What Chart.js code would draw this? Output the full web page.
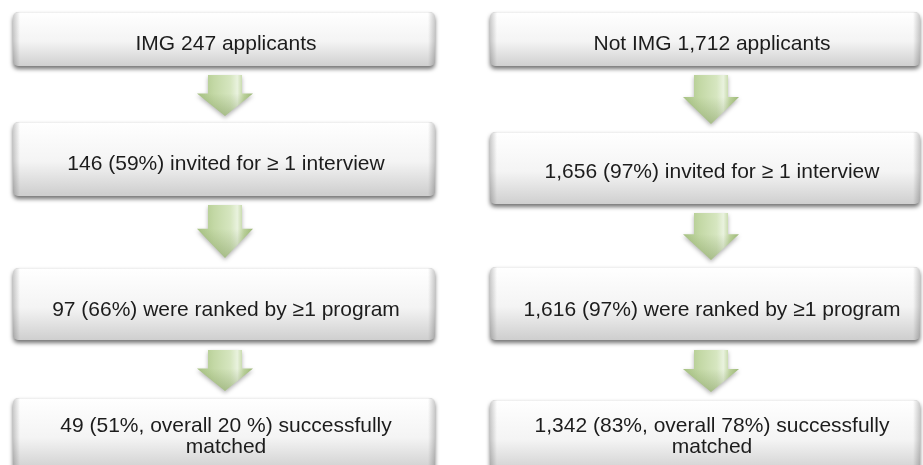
<!DOCTYPE html>
<html>
<head>
<meta charset="utf-8">
<script src="https://cdn.jsdelivr.net/npm/chart.js@4/dist/chart.umd.min.js"></script>
<style>
  html, body { margin: 0; padding: 0; background: #ffffff; }
  #wrap { width: 923px; height: 465px; position: relative; }
</style>
</head>
<body>
<div id="wrap"><canvas id="flowChart"></canvas></div>
<script>
// Applicant flow data
const groups = ['IMG', 'Not IMG'];
const applicants = [247, 1712];
const invited = [146, 1656];
const invitedPct = [59, 97];
const ranked = [97, 1616];
const rankedPct = [66, 97];
const matched = [49, 1342];
const matchedPct = [51, 83];
const overallPct = [20, 78];
const overallSuffix = [' %', '%'];

// Layout (chart units = pixels of the 923x465 scale)
const colBox = [[13, 435], [490, 920]];
const colText = [226, 712];
const boxRows = [
    [[12, 66], [122, 196], [268, 340], [398, 472]],
    [[12, 66], [132, 204], [267, 340], [400, 472]]
];
const arrowRows = [
    [[75, 116], [205, 258], [350, 391]],
    [[75, 124], [213, 260], [350, 392]]
];
const textBase = [
    [50, 170, 316, [432, 453]],
    [50, 178, 316, [432, 453]]
];

function fmt(n) {
    return n.toLocaleString('en-US');
}

function stageText(i) {
    return [
        [groups[i] + ' ' + fmt(applicants[i]) + ' applicants'],
        [fmt(invited[i]) + ' (' + invitedPct[i] + '%) invited for \u2265 1 interview'],
        [fmt(ranked[i]) + ' (' + rankedPct[i] + '%) were ranked by \u22651 program'],
        [fmt(matched[i]) + ' (' + matchedPct[i] + '%, overall ' + overallPct[i] + overallSuffix[i] + ') successfully', 'matched']
    ];
}

function drawBox(ctx, x0, y0, x1, y1) {
    const w = x1 - x0, h = y1 - y0, r = 5;
    ctx.save();
    ctx.shadowColor = 'rgba(0,0,0,0.55)';
    ctx.shadowBlur = 4;
    ctx.shadowOffsetY = 3;
    const g = ctx.createLinearGradient(0, y0, 0, y0 + Math.min(h, 72));
    g.addColorStop(0, '#ffffff');
    g.addColorStop(0.55, '#f4f4f4');
    g.addColorStop(1, '#cfcfcf');
    ctx.fillStyle = g;
    ctx.beginPath();
    ctx.roundRect(x0, y0, w, h, r);
    ctx.fill();
    ctx.restore();

    ctx.save();
    ctx.beginPath();
    ctx.roundRect(x0, y0, w, h, r);
    ctx.clip();
    const e = 7 / w;
    const s = ctx.createLinearGradient(x0, 0, x1, 0);
    s.addColorStop(0, 'rgba(0,0,0,0.2)');
    s.addColorStop(e, 'rgba(0,0,0,0)');
    s.addColorStop(1 - e, 'rgba(0,0,0,0)');
    s.addColorStop(1, 'rgba(0,0,0,0.2)');
    ctx.fillStyle = s;
    ctx.fillRect(x0, y0, w, h);
    ctx.strokeStyle = 'rgba(0,0,0,0.06)';
    ctx.lineWidth = 1;
    ctx.beginPath();
    ctx.moveTo(x0, y0 + 0.5);
    ctx.lineTo(x1, y0 + 0.5);
    ctx.stroke();
    ctx.restore();
}

function drawArrow(ctx, cx, top, bottom) {
    const sh = 17, hh = 28;
    const hy = top + (bottom - top) * 0.45;
    ctx.save();
    ctx.beginPath();
    ctx.moveTo(cx - sh, top);
    ctx.lineTo(cx + sh, top);
    ctx.lineTo(cx + sh, hy);
    ctx.lineTo(cx + hh, hy);
    ctx.lineTo(cx, bottom);
    ctx.lineTo(cx - hh, hy);
    ctx.lineTo(cx - sh, hy);
    ctx.closePath();
    ctx.shadowColor = 'rgba(0,0,0,0.3)';
    ctx.shadowBlur = 4;
    ctx.shadowOffsetY = 2;
    const g = ctx.createLinearGradient(cx - hh, 0, cx + hh, 0);
    g.addColorStop(0, '#a7c283');
    g.addColorStop(0.3, '#c3d8a5');
    g.addColorStop(0.6, '#d6e6c0');
    g.addColorStop(0.72, '#e9f2de');
    g.addColorStop(0.84, '#bdd39d');
    g.addColorStop(1, '#9db877');
    ctx.fillStyle = g;
    ctx.fill();
    ctx.shadowColor = 'transparent';
    ctx.clip();
    const v = ctx.createLinearGradient(0, hy, 0, bottom);
    v.addColorStop(0, 'rgba(90,120,50,0)');
    v.addColorStop(1, 'rgba(90,120,50,0.35)');
    ctx.fillStyle = v;
    ctx.fillRect(cx - hh, hy, hh * 2, bottom - hy);
    ctx.restore();
}

const flowPlugin = {
    id: 'flowPlugin',
    afterDraw(chart) {
        const ctx = chart.ctx;
        const xs = chart.scales.x, ys = chart.scales.y;
        const px = v => xs.getPixelForValue(v);
        const py = v => ys.getPixelForValue(v);

        groups.forEach(function (g, i) {
            const texts = stageText(i);
            boxRows[i].forEach(function (row, k) {
                drawBox(ctx, px(colBox[i][0]), py(row[0]), px(colBox[i][1]), py(row[1]));
            });
            arrowRows[i].forEach(function (a) {
                drawArrow(ctx, px(colText[i] - 1), py(a[0]), py(a[1]));
            });
            ctx.save();
            ctx.fillStyle = '#1c1c1c';
            ctx.font = '21px "Liberation Sans", Arial, sans-serif';
            ctx.textAlign = 'center';
            ctx.textBaseline = 'alphabetic';
            texts.forEach(function (lines, k) {
                const base = [].concat(textBase[i][k]);
                lines.forEach(function (line, j) {
                    ctx.fillText(line, px(colText[i]), py(base[j]));
                });
            });
            ctx.restore();
        });
    }
};

document.addEventListener("DOMContentLoaded", function () {
    const ctx = document.getElementById('flowChart');
    new Chart(ctx, {
        type: 'scatter',
        data: { datasets: [] },
        options: {
            responsive: true,
            maintainAspectRatio: false,
            animation: false,
            layout: { padding: 0 },
            plugins: { legend: { display: false }, tooltip: { enabled: false } },
            scales: {
                x: { type: 'linear', min: 0, max: 923, display: false },
                y: { type: 'linear', min: 0, max: 465, reverse: true, display: false }
            }
        },
        plugins: [flowPlugin]
    });
});
</script>
</body>
</html>
